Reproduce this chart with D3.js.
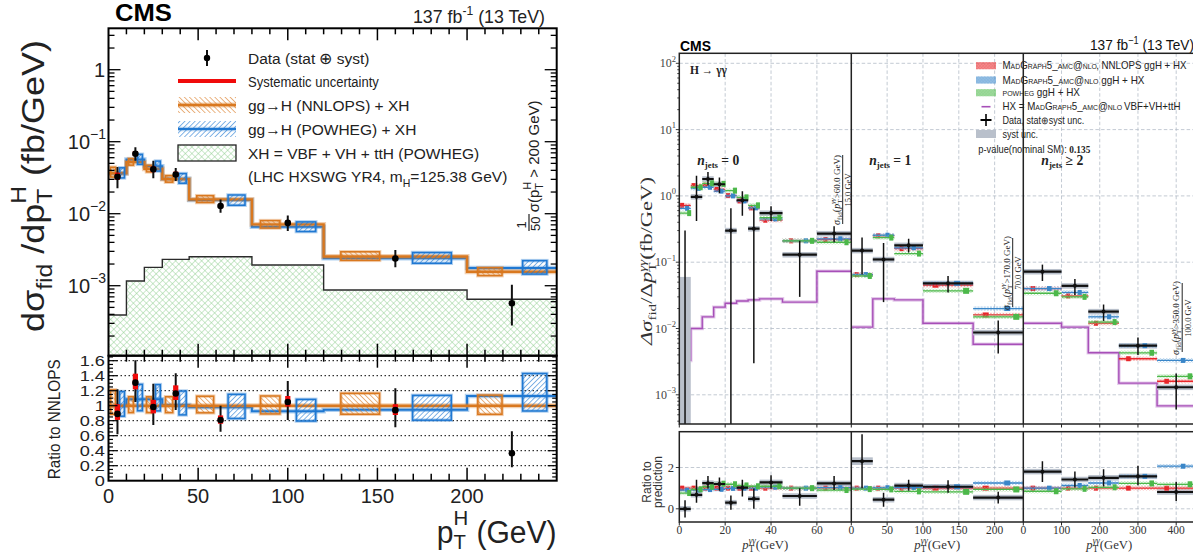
<!DOCTYPE html>
<html>
<head>
<meta charset="utf-8">
<script src="https://cdn.jsdelivr.net/npm/d3@7"></script>
<style>
  body { margin: 0; background: #fff; }
  svg { display: block; }
  text { white-space: pre; }
</style>
</head>
<body>
<svg id="chart" width="1193" height="554"></svg>
<script>
// ---------------- left figure: inclusive pT(H) ----------------
const ptEdges    = [0, 10, 20, 30, 45, 80, 120, 200, 250];
const dataXsec   = [0.0325, 0.068, 0.0413, 0.0351, 0.0128, 0.00745, 0.00239, 0.00057];
const dataErrUp  = [0.0120, 0.0155, 0.0130, 0.0082, 0.0030, 0.0020, 0.00074, 0.00046];
const dataErrDn  = [0.0099, 0.0135, 0.0101, 0.0066, 0.0025, 0.0017, 0.00058, 0.00029];
const dataSystUp = [0.0047, 0.0062, 0.0040, 0.0033, 0.00095, 0.00057, 0.00020, 0.00003];
const dataSystDn = [0.0029, 0.0047, 0.0036, 0.0026, 0.00080, 0.00043, 0.000165, 0.00003];
const nnlopsXsec = [0.0365, 0.052, 0.042, 0.0302, 0.0158, 0.0071, 0.00254, 0.00156];
const nnlopsHi   = [0.0442, 0.0582, 0.0470, 0.0338, 0.0178, 0.00802, 0.00296, 0.00178];
const nnlopsLo   = [0.0323, 0.0472, 0.0381, 0.0274, 0.0143, 0.00632, 0.00225, 0.00138];
const powhegXsec = [0.0365, 0.0564, 0.0456, 0.0305, 0.0155, 0.00657, 0.0024, 0.00176];
const powhegHi   = [0.0434, 0.0668, 0.0538, 0.0361, 0.0182, 0.0077, 0.00289, 0.00223];
const powhegLo   = [0.0314, 0.0485, 0.0391, 0.0265, 0.0131, 0.00565, 0.00205, 0.00145];
const xhXsec     = [3.92e-4, 1.16e-3, 1.8e-3, 2.32e-3, 2.53e-3, 1.94e-3, 8.7e-4, 6.5e-4];
const ptTicks    = [0, 50, 100, 150, 200];
const ratioTicks = [0, 0.2, 0.4, 0.6, 0.8, 1, 1.2, 1.4, 1.6];
const decadeTicksL = [1e-3, 1e-2, 1e-1, 1];

// ---------------- right figure: pT(gg) in jet multiplicity bins ----------------
const jetLabels  = ["0", "1", "2"];
const edgesJ0    = [0, 5, 10, 15, 20, 25, 30, 35, 45, 60, 75];
const nnlopsJ0   = [0.72, 1.43, 1.45, 1.25, 1.01, 0.84, 0.66, 0.43, 0.21, 0.22];
const mgJ0       = [0.65, 1.30, 1.35, 1.18, 1.00, 0.84, 0.66, 0.45, 0.21, 0.225];
const powhegJ0   = [0.55, 1.35, 1.55, 1.52, 1.20, 0.95, 0.72, 0.47, 0.21, 0.20];
const hxJ0       = [0.0033, 0.010, 0.015, 0.021, 0.024, 0.026, 0.027, 0.028, 0.025, 0.073];
const dataJ0     = [0.0, 0.97, 1.8, 1.5, 0.30, 0.86, 0.32, 0.55, 0.13, 0.27];
const errUpJ0    = [0.30, 1.05, 0.50, 0.40, 0.35, 0.32, 0.33, 0.15, 0.08, 0.08];
const errDnJ0    = [0.30, 0.55, 0.37, 0.40, 0.35, 0.36, 0.317, 0.13, 0.10, 0.07];
const systJ0     = [0.06, 0.08, 0.10, 0.10, 0.03, 0.06, 0.03, 0.04, 0.012, 0.02];

const edgesJ1    = [0, 30, 60, 100, 170, 240];
const nnlopsJ1   = [0.065, 0.25, 0.16, 0.045, 0.016];
const mgJ1       = [0.065, 0.255, 0.165, 0.048, 0.020];
const powhegJ1   = [0.062, 0.235, 0.135, 0.037, 0.015];
const hxJ1       = [0.0105, 0.028, 0.027, 0.012, 0.0058];
const dataJ1     = [0.15, 0.11, 0.18, 0.048, 0.0087];
const errUpJ1    = [0.085, 0.085, 0.045, 0.014, 0.0045];
const errDnJ1    = [0.085, 0.085, 0.04, 0.013, 0.0045];
const systJ1     = [0.012, 0.009, 0.014, 0.004, 0.0007];

const edgesJ2    = [0, 100, 170, 250, 350, 450];
const nnlopsJ2   = [0.040, 0.031, 0.012, 0.0035, 0.0016];
const mgJ2       = [0.040, 0.035, 0.015, 0.0055, 0.0033];
const powhegJ2   = [0.034, 0.030, 0.0125, 0.0043, 0.0019];
const hxJ2       = [0.012, 0.0105, 0.0043, 0.0015, 0.00068];
const dataJ2     = [0.072, 0.044, 0.018, 0.0055, 0.0013];
const errUpJ2    = [0.02, 0.012, 0.005, 0.0018, 0.0008];
const errDnJ2    = [0.02, 0.012, 0.005, 0.0015, 0.0007];
const systJ2     = [0.005, 0.003, 0.0012, 0.0004, 0.0001];

const ticksJ0 = [0, 20, 40, 60];
const ticksJ1 = [0, 50, 100, 150, 200];
const ticksJ2 = [0, 100, 200, 300, 400];
const lastBinCut   = ["60.0", "170.0", "350.0"];
const lastBinWidth = ["15.0", "70.0", "100.0"];
const decadeTicksR = [1e-3, 1e-2, 1e-1, 1, 10, 100];

// ---------------- shared helpers ----------------
const SANS  = "'Liberation Sans', Arial, Helvetica, sans-serif";
const SERIF = "'Liberation Serif', 'DejaVu Serif', serif";
const svg = d3.select("#chart");
const defs = svg.append("defs");

function hatchPattern(id, color, angle, gap, width, cross) {
  const p = defs.append("pattern").attr("id", id)
    .attr("patternUnits", "userSpaceOnUse")
    .attr("width", gap).attr("height", gap)
    .attr("patternTransform", `rotate(${angle})`);
  p.append("line").attr("x1", 0).attr("y1", 0).attr("x2", 0).attr("y2", gap)
    .attr("stroke", color).attr("stroke-width", width);
  if (cross) p.append("line").attr("x1", 0).attr("y1", 0).attr("x2", gap).attr("y2", 0)
    .attr("stroke", color).attr("stroke-width", width);
}
const ORANGE = "#d9781f", BLUE = "#1f78d2", XHGREEN = "#8fcf8f";
hatchPattern("hatchOrange", ORANGE, -45, 3.6, 1.1, false);
hatchPattern("hatchBlue", BLUE, 45, 3.6, 1.1, false);
hatchPattern("crossGreen", XHGREEN, 45, 4.6, 0.9, true);
const RED = "#e8262b", MGBLUE = "#3a86c8", PWGREEN = "#4cb84a", PURPLE = "#a74fb8", SYSTGRAY = "#b9c0cb";
hatchPattern("hatchRed", "#f07070", 45, 2.2, 0.9, true);
hatchPattern("hatchMg", "#7fb2e0", 45, 2.2, 0.9, true);
hatchPattern("hatchPw", "#8fd48d", 45, 2.2, 0.9, true);

// Text made of pieces; stacked pieces share the same x (super/subscript pairs).
// width (or sx) stretches the run along its baseline, sy scales the glyph height.
function rich(parent, x, y, pieces, o = {}) {
  const outer = parent.append("g").attr("transform", `translate(${x},${y}) rotate(${o.rotate || 0})`);
  const g = outer.append("g");
  let cx = 0, pend = 0;
  pieces.forEach(p => {
    const el = g.append("text").attr("x", cx + (p.dx || 0)).attr("y", p.dy || 0)
      .attr("xml:space", "preserve")
      .attr("font-size", p.size).attr("font-family", p.family || o.family || SANS)
      .attr("fill", o.fill || "#000").text(p.t);
    const wt = p.weight || o.weight; if (wt) el.attr("font-weight", wt);
    const st = p.style || o.style; if (st) el.attr("font-style", st);
    if (p.variant) el.style("font-variant", p.variant);
    const w = el.node().getComputedTextLength() + (p.dx || 0);
    if (p.stack) pend = Math.max(pend, w);
    else { cx += Math.max(w, pend); pend = 0; }
  });
  cx += pend;
  const sc = o.width ? o.width / cx : (o.sx || 1);
  const W = cx * sc;
  const shift = o.anchor === "end" ? -W : o.anchor === "middle" ? -W / 2 : 0;
  g.attr("transform", `translate(${shift},0) scale(${sc},${o.sy || 1})`);
  return outer;
}

// ======================= LEFT FIGURE =======================
const L = { x0: 108.5, x1: 556.7, top: 28.3, mid: 355.7, bot: 480.7 };
const xL = d3.scaleLinear().domain([0, 250]).range([L.x0, L.x1]);
const yL = d3.scaleLog().domain([Math.pow(10, -3.972), Math.pow(10, 0.575)]).range([L.mid, L.top]);
const yLR = d3.scaleLinear().domain([0, 1.6667]).range([L.bot, L.mid]);

defs.append("clipPath").attr("id", "clipLmain").append("rect")
  .attr("x", L.x0).attr("y", L.top).attr("width", L.x1 - L.x0).attr("height", L.mid - L.top);
defs.append("clipPath").attr("id", "clipLratio").append("rect")
  .attr("x", L.x0).attr("y", L.mid).attr("width", L.x1 - L.x0).attr("height", L.bot - L.mid);

const nB = ptEdges.length - 1;
const bins = d3.range(nB).map(i => ({ lo: ptEdges[i], hi: ptEdges[i + 1], c: (ptEdges[i] + ptEdges[i + 1]) / 2 }));
function stepPts(vals) {
  const pts = vals.map((v, i) => [ptEdges[i], v]);
  pts.push([ptEdges[nB], vals[nB - 1]]);
  return pts;
}

const gLm = svg.append("g").attr("clip-path", "url(#clipLmain)");
// XH contribution: hatched area from the bottom of the pad
gLm.append("path").datum(stepPts(xhXsec))
  .attr("d", d3.area().curve(d3.curveStepAfter).x(d => xL(d[0])).y0(L.mid).y1(d => yL(d[1])))
  .attr("fill", "url(#crossGreen)");
gLm.append("path").datum(stepPts(xhXsec))
  .attr("d", d3.line().curve(d3.curveStepAfter).x(d => xL(d[0])).y(d => yL(d[1])))
  .attr("fill", "none").attr("stroke", "#2b2b2b").attr("stroke-width", 1.4);

function predLines(g, vals, y, color, w) {
  const line = d3.line().curve(d3.curveStepAfter).x(d => xL(d[0])).y(d => y(d[1]));
  g.append("path").datum(stepPts(vals)).attr("d", line).attr("fill", "none")
    .attr("stroke", color).attr("stroke-opacity", 0.35).attr("stroke-width", w + 2.5);
  g.append("path").datum(stepPts(vals)).attr("d", line).attr("fill", "none")
    .attr("stroke", color).attr("stroke-width", w);
}
function predBoxes(g, lo, hi, y, color, pat, f0, f1) {
  bins.forEach((b, i) => {
    const xa = xL(b.lo + f0 * (b.hi - b.lo)), xb = xL(b.lo + f1 * (b.hi - b.lo));
    const ya = y(hi[i]), yb = y(lo[i]);
    g.append("rect").attr("x", xa).attr("y", ya).attr("width", xb - xa).attr("height", yb - ya)
      .attr("fill", "none").attr("stroke", color).attr("stroke-opacity", 0.35).attr("stroke-width", 3.5);
    g.append("rect").attr("x", xa).attr("y", ya).attr("width", xb - xa).attr("height", yb - ya)
      .attr("fill", `url(#${pat})`).attr("stroke", color).attr("stroke-width", 1.5);
  });
}
function dataPoints(g, vals, up, dn, sUp, sDn, y) {
  bins.forEach((b, i) => {
    const x = xL(b.c);
    g.append("line").attr("x1", x).attr("x2", x).attr("y1", y(vals[i] + up[i])).attr("y2", y(Math.max(vals[i] - dn[i], 1e-9)))
      .attr("stroke", "#111").attr("stroke-width", 2);
    g.append("rect").attr("x", x - 2.6).attr("width", 5.2)
      .attr("y", y(vals[i] + sUp[i])).attr("height", Math.max(y(vals[i] - sDn[i]) - y(vals[i] + sUp[i]), 0.5))
      .attr("fill", "#f00a0a");
    g.append("circle").attr("cx", x).attr("cy", y(vals[i])).attr("r", 3.3).attr("fill", "#000");
  });
}

predLines(gLm, powhegXsec, yL, BLUE, 2);
predLines(gLm, nnlopsXsec, yL, ORANGE, 2.4);
predBoxes(gLm, nnlopsLo, nnlopsHi, yL, ORANGE, "hatchOrange", 0.12, 0.39);
predBoxes(gLm, powhegLo, powhegHi, yL, BLUE, "hatchBlue", 0.62, 0.89);
dataPoints(gLm, dataXsec, dataErrUp, dataErrDn, dataSystUp, dataSystDn, yL);

// ratio pad: everything divided by the NNLOPS prediction
const ratioOf = arr => arr.map((v, i) => v / nnlopsXsec[i]);
const gLr = svg.append("g").attr("clip-path", "url(#clipLratio)");
ratioTicks.filter(t => t > 0).forEach(t => {
  gLr.append("line").attr("x1", L.x0).attr("x2", L.x1).attr("y1", yLR(t)).attr("y2", yLR(t))
    .attr("stroke", "#000").attr("stroke-width", 1).attr("stroke-dasharray", "1.5,2.5");
});
predLines(gLr, ratioOf(powhegXsec), yLR, BLUE, 2);
predLines(gLr, ratioOf(nnlopsXsec), yLR, ORANGE, 2.4);
predBoxes(gLr, ratioOf(nnlopsLo), ratioOf(nnlopsHi), yLR, ORANGE, "hatchOrange", 0.12, 0.39);
predBoxes(gLr, ratioOf(powhegLo), ratioOf(powhegHi), yLR, BLUE, "hatchBlue", 0.62, 0.89);
dataPoints(gLr, ratioOf(dataXsec), ratioOf(dataErrUp), ratioOf(dataErrDn), ratioOf(dataSystUp), ratioOf(dataSystDn), yLR);

// frames and ticks
const gLa = svg.append("g").attr("stroke", "#000");
[[L.top, L.mid], [L.mid, L.bot]].forEach(([a, b]) => {
  gLa.append("rect").attr("x", L.x0).attr("y", a).attr("width", L.x1 - L.x0).attr("height", b - a)
    .attr("fill", "none").attr("stroke-width", 2);
});
d3.range(10, 250, 10).forEach(v => {
  const x = xL(v), maj = v % 50 === 0;
  const segs = maj ? [[L.top, L.top + 12], [L.mid - 12, L.mid], [L.mid, L.mid + 12], [L.bot - 13, L.bot]]
                   : [[L.top, L.top + 6], [L.mid - 6, L.mid], [L.mid, L.mid + 6], [L.bot - 7, L.bot]];
  segs.forEach(s => gLa.append("line").attr("x1", x).attr("x2", x).attr("y1", s[0]).attr("y2", s[1]).attr("stroke-width", 1.5));
});
for (let e = -4; e <= 0; e++) {
  for (let m = 1; m <= 9; m++) {
    const v = m * Math.pow(10, e), y = yL(v);
    if (y < L.top || y > L.mid) continue;
    const len = m === 1 ? 12 : 6;
    gLa.append("line").attr("x1", L.x0).attr("x2", L.x0 + len).attr("y1", y).attr("y2", y).attr("stroke-width", 1.3);
    gLa.append("line").attr("x1", L.x1 - len).attr("x2", L.x1).attr("y1", y).attr("y2", y).attr("stroke-width", 1.3);
  }
}
d3.range(0.05, 1.66, 0.05).forEach(v => {
  const y = yLR(v), maj = Math.abs(v / 0.2 - Math.round(v / 0.2)) < 1e-6, len = maj ? 9 : 4.5;
  gLa.append("line").attr("x1", L.x0).attr("x2", L.x0 + len).attr("y1", y).attr("y2", y).attr("stroke-width", 1.2);
  gLa.append("line").attr("x1", L.x1 - len).attr("x2", L.x1).attr("y1", y).attr("y2", y).attr("stroke-width", 1.2);
});

// axis labels
const gLt = svg.append("g");
decadeTicksL.forEach(v => {
  const e = Math.round(Math.log10(v)), y = yL(v);
  if (e === 0) rich(gLt, 105, y + 7.5, [{ t: "1", size: 20 }], { anchor: "end", fill: "#222" });
  else rich(gLt, 106, y + 7.5, [{ t: "10", size: 20 }, { t: "\u2212" + (-e), size: 14, dy: -10 }], { anchor: "end", fill: "#222" });
});
ratioTicks.forEach(v => {
  rich(gLt, 105, yLR(v) + 5, [{ t: v === 1 ? "1" : v === 0 ? "0" : d3.format(".1f")(v), size: 13.8 }],
    { anchor: "end", fill: "#222", sx: 1.32 });
});
ptTicks.forEach(v => {
  gLt.append("text").attr("x", xL(v)).attr("y", 503).attr("text-anchor", "middle")
    .attr("font-family", SANS).attr("font-size", 20).attr("fill", "#222").text(v);
});
rich(gLt, L.x1, 543, [{ t: "p", size: 31 }, { t: "H", size: 21, dy: -18, stack: true }, { t: "T", size: 21, dy: 6 },
  { t: " (GeV)", size: 31 }], { anchor: "end", fill: "#222", width: 120 });
rich(gLt, 44, 186, [{ t: "d\u03c3", size: 32 }, { t: "fid", size: 22, dy: 8 }, { t: " /dp", size: 32 },
  { t: "H", size: 22, dy: -18, stack: true }, { t: "T", size: 22, dy: 8 }, { t: " (fb/GeV)", size: 32 }],
  { anchor: "middle", rotate: -90, fill: "#222", width: 292 });
rich(gLt, 60, (L.mid + L.bot) / 2 + 1, [{ t: "Ratio to NNLOPS", size: 17 }],
  { anchor: "middle", rotate: -90, fill: "#222", width: 120 });
rich(gLt, 115, 21, [{ t: "CMS", size: 24, weight: "bold" }], { width: 57 });
rich(gLt, 545, 22.5, [{ t: "137 fb", size: 19 }, { t: "-1", size: 13, dy: -8 }, { t: " (13 TeV)", size: 19 }],
  { anchor: "end", fill: "#222", width: 132 });
// high-pT bin annotation
rich(gLt, 539, 231, [{ t: "1", size: 13, dy: -13, dx: 2.5, stack: true }, { t: "50", size: 13, dy: 1 },
  { t: " \u03c3(p", size: 15 }, { t: "H", size: 11, dy: -8, stack: true }, { t: "T", size: 11, dy: 4 },
  { t: " > 200 GeV)", size: 15 }], { rotate: -90, fill: "#222" });
gLt.append("line").attr("x1", 529).attr("x2", 529).attr("y1", 214).attr("y2", 231).attr("stroke", "#222").attr("stroke-width", 1.2);

// legend
const legL = svg.append("g");
const legX0 = 178, legX1 = 236, legTx = 248;
const legRows = [58, 81, 105, 129, 153, 176];
legL.append("line").attr("x1", 207).attr("x2", 207).attr("y1", legRows[0] - 8).attr("y2", legRows[0] + 8).attr("stroke", "#111").attr("stroke-width", 2);
legL.append("circle").attr("cx", 207).attr("cy", legRows[0]).attr("r", 3.2);
legL.append("line").attr("x1", legX0).attr("x2", legX1).attr("y1", legRows[1]).attr("y2", legRows[1]).attr("stroke", "#f00a0a").attr("stroke-width", 4);
[[2, ORANGE, "hatchOrange", 2.4], [3, BLUE, "hatchBlue", 2]].forEach(([r, c, pat, w]) => {
  const y = legRows[r];
  legL.append("rect").attr("x", legX0).attr("y", y - 8).attr("width", legX1 - legX0).attr("height", 16).attr("fill", `url(#${pat})`);
  legL.append("line").attr("x1", legX0).attr("x2", legX1).attr("y1", y).attr("y2", y).attr("stroke", c).attr("stroke-opacity", 0.35).attr("stroke-width", w + 2.5);
  legL.append("line").attr("x1", legX0).attr("x2", legX1).attr("y1", y).attr("y2", y).attr("stroke", c).attr("stroke-width", w);
});
legL.append("rect").attr("x", legX0).attr("y", legRows[4] - 8).attr("width", legX1 - legX0).attr("height", 16)
  .attr("fill", "url(#crossGreen)").attr("stroke", "#222").attr("stroke-width", 1.3);
const legFS = 15.5;
rich(legL, legTx, legRows[0] + 5.5, [{ t: "Data (stat \u2295 syst)", size: legFS }], { fill: "#222" });
rich(legL, legTx, legRows[1] + 5.5, [{ t: "Systematic uncertainty", size: legFS }], { fill: "#222", width: 131 });
rich(legL, legTx, legRows[2] + 5.5, [{ t: "gg\u2192H (NNLOPS) + XH", size: legFS }], { fill: "#222" });
rich(legL, legTx, legRows[3] + 5.5, [{ t: "gg\u2192H (POWHEG) + XH", size: legFS }], { fill: "#222" });
rich(legL, legTx, legRows[4] + 5.5, [{ t: "XH = VBF + VH + ttH (POWHEG)", size: legFS }], { fill: "#222" });
rich(legL, legTx, legRows[5] + 5.5, [{ t: "(LHC HXSWG YR4, m", size: legFS }, { t: "H", size: 10.5, dy: 5 },
  { t: "=125.38 GeV)", size: legFS }], { fill: "#222" });

// ======================= RIGHT FIGURE =======================
const R = { x0: 679.3, subW: 172, top: 53.3, mainBot: 424, rTop: 431.7, rBot: 522 };
const yR = d3.scaleLog().domain([Math.pow(10, 2 - (R.mainBot - 63.3) / 66.3), Math.pow(10, 2 + 10 / 66.3)]).range([R.mainBot, R.top]);
const yRR = d3.scaleLinear().domain([-0.6392, 3.7337]).range([R.rBot, R.rTop]);
const yMinR = yR.domain()[0];
const subs = [
  { edges: edgesJ0, nnlops: nnlopsJ0, mg: mgJ0, pw: powhegJ0, hx: hxJ0, data: dataJ0, up: errUpJ0, dn: errDnJ0, syst: systJ0, ticks: ticksJ0 },
  { edges: edgesJ1, nnlops: nnlopsJ1, mg: mgJ1, pw: powhegJ1, hx: hxJ1, data: dataJ1, up: errUpJ1, dn: errDnJ1, syst: systJ1, ticks: ticksJ1 },
  { edges: edgesJ2, nnlops: nnlopsJ2, mg: mgJ2, pw: powhegJ2, hx: hxJ2, data: dataJ2, up: errUpJ2, dn: errDnJ2, syst: systJ2, ticks: ticksJ2 }
];
const xRight = R.x0 + 3 * R.subW;
defs.append("clipPath").attr("id", "clipRmain").append("rect")
  .attr("x", R.x0).attr("y", R.top).attr("width", xRight - R.x0).attr("height", R.mainBot - R.top);
defs.append("clipPath").attr("id", "clipRratio").append("rect")
  .attr("x", R.x0).attr("y", R.rTop).attr("width", xRight - R.x0).attr("height", R.rBot - R.rTop);

const gRgrid = svg.append("g").attr("stroke", "#b4bcc8").attr("stroke-width", 0.8).attr("stroke-dasharray", "3.5,2.2");
decadeTicksR.forEach(v => gRgrid.append("line").attr("x1", R.x0).attr("x2", xRight).attr("y1", yR(v)).attr("y2", yR(v)));
[0, 2].forEach(v => gRgrid.append("line").attr("x1", R.x0).attr("x2", xRight).attr("y1", yRR(v)).attr("y2", yRR(v)));

const gRm = svg.append("g").attr("clip-path", "url(#clipRmain)");
const gRr = svg.append("g").attr("clip-path", "url(#clipRratio)");
const gRt = svg.append("g");
const clampLog = v => Math.max(v, yMinR * 0.5);

function drawSet(g, x, binsK, y, clamp, dv, up, dn, sy, preds) {
  // data: systematic box behind the bin-width bar
  binsK.forEach((b, i) => {
    const xa = x(b.lo), xb = x(b.hi);
    const ys0 = y(clamp(dv[i] + sy[i])), ys1 = y(clamp(dv[i] - sy[i]));
    const h = Math.max(ys1 - ys0, 5.5);
    g.append("rect").attr("x", xa).attr("width", xb - xa).attr("y", Math.min(ys0, (ys0 + ys1) / 2 - h / 2))
      .attr("height", h).attr("fill", SYSTGRAY);
  });
  // predictions: thin band, central line and a marker
  preds.forEach(p => {
    binsK.forEach((b, i) => {
      const xa = x(b.lo), xb = x(b.hi), yc = y(p.v[i]), bw = xb - xa;
      g.append("rect").attr("x", xa).attr("width", bw).attr("y", yc - 2.2).attr("height", 4.4)
        .attr("fill", `url(#${p.pat})`).attr("opacity", 0.8);
      g.append("line").attr("x1", xa).attr("x2", xb).attr("y1", yc).attr("y2", yc).attr("stroke", p.c).attr("stroke-width", 1.3);
      const mw = Math.max(4, Math.min(bw * 0.12, p.mw));
      g.append("rect").attr("x", xa + p.f * bw - mw / 2).attr("y", yc - p.mh / 2).attr("width", mw).attr("height", p.mh).attr("fill", p.c);
    });
  });
  // data bars
  binsK.forEach((b, i) => {
    const xa = x(b.lo), xb = x(b.hi), xc = x((b.lo + b.hi) / 2), yc = y(clamp(dv[i]));
    g.append("line").attr("x1", xa).attr("x2", xb).attr("y1", yc).attr("y2", yc).attr("stroke", "#111").attr("stroke-width", 2.2);
    g.append("line").attr("x1", xc).attr("x2", xc).attr("y1", y(clamp(dv[i] + up[i]))).attr("y2", y(clamp(dv[i] - dn[i])))
      .attr("stroke", "#111").attr("stroke-width", 1.5);
    g.append("circle").attr("cx", xc).attr("cy", yc).attr("r", 2).attr("fill", "#111");
  });
}

subs.forEach((s, k) => {
  const nb = s.edges.length - 1, xmax = s.edges[nb];
  const x = d3.scaleLinear().domain([0, xmax]).range([R.x0 + k * R.subW, R.x0 + (k + 1) * R.subW]);
  s.ticks.forEach(t => {
    if (t > 0) {
      gRgrid.append("line").attr("x1", x(t)).attr("x2", x(t)).attr("y1", R.top).attr("y2", R.mainBot);
      gRgrid.append("line").attr("x1", x(t)).attr("x2", x(t)).attr("y1", R.rTop).attr("y2", R.rBot);
    }
    gRt.append("line").attr("x1", x(t)).attr("x2", x(t)).attr("y1", R.mainBot).attr("y2", R.mainBot + 3.5).attr("stroke", "#222").attr("stroke-width", 1);
    gRt.append("line").attr("x1", x(t)).attr("x2", x(t)).attr("y1", R.rBot).attr("y2", R.rBot + 3.5).attr("stroke", "#222").attr("stroke-width", 1);
    gRt.append("text").attr("x", x(t)).attr("y", 533.5).attr("text-anchor", "middle").attr("font-family", SERIF)
      .attr("font-size", 11.5).attr("fill", "#333").text(t);
  });
  const binsK = d3.range(nb).map(i => ({ lo: s.edges[i], hi: s.edges[i + 1] }));
  const ratio = arr => arr.map((v, i) => v / s.nnlops[i]);

  // HX step line
  const hxPts = s.hx.map((v, i) => [s.edges[i], v]).concat([[xmax, s.hx[nb - 1]]]);
  const hxLine = d3.line().curve(d3.curveStepAfter).x(d => x(d[0])).y(d => yR(d[1]));
  gRm.append("path").datum(hxPts).attr("d", hxLine).attr("fill", "none").attr("stroke", PURPLE).attr("stroke-opacity", 0.3).attr("stroke-width", 3.5);
  gRm.append("path").datum(hxPts).attr("d", hxLine).attr("fill", "none").attr("stroke", PURPLE).attr("stroke-width", 1.4);

  const predsMain = [
    { v: s.nnlops, c: RED, pat: "hatchRed", f: 0.25, mw: 7, mh: 5 },
    { v: s.mg, c: MGBLUE, pat: "hatchMg", f: 0.68, mw: 6.5, mh: 5 },
    { v: s.pw, c: PWGREEN, pat: "hatchPw", f: 0.86, mw: 7, mh: 6 }
  ];
  drawSet(gRm, x, binsK, yR, clampLog, s.data, s.up, s.dn, s.syst, predsMain);
  const predsRatio = predsMain.map(p => Object.assign({}, p, { v: ratio(p.v) }));
  drawSet(gRr, x, binsK, yRR, v => v, ratio(s.data), ratio(s.up), ratio(s.dn), ratio(s.syst), predsRatio);

  const xm = (x(0) + x(xmax)) / 2;
  rich(gRt, xm, 548.5, [{ t: "p", size: 13.5, style: "italic", family: SERIF }, { t: "\u03b3\u03b3", size: 9.5, dy: -5, stack: true, style: "italic", family: SERIF },
    { t: "T", size: 9.5, dy: 3.5, family: SERIF }, { t: "(GeV)", size: 13.5, family: SERIF }], { anchor: "middle", fill: "#333", width: 46 });
});

// frames
const gRf = svg.append("g").attr("stroke", "#222").attr("fill", "none");
[[R.top, R.mainBot], [R.rTop, R.rBot]].forEach(([a, b]) => {
  gRf.append("rect").attr("x", R.x0).attr("y", a).attr("width", xRight - R.x0).attr("height", b - a).attr("stroke-width", 1.5);
  [1, 2].forEach(k => gRf.append("line").attr("x1", R.x0 + k * R.subW).attr("x2", R.x0 + k * R.subW).attr("y1", a).attr("y2", b).attr("stroke-width", 1.5));
});
// log ticks on the left spine
for (let e = -4; e <= 2; e++) {
  for (let m = 1; m <= 9; m++) {
    const v = m * Math.pow(10, e), y = yR(v);
    if (y < R.top || y > R.mainBot) continue;
    gRf.append("line").attr("x1", R.x0 - (m === 1 ? 3.5 : 2)).attr("x2", R.x0).attr("y1", y).attr("y2", y).attr("stroke-width", 0.9);
  }
}
decadeTicksR.forEach(v => {
  const e = Math.round(Math.log10(v));
  rich(gRt, 676, yR(v) + 4, [{ t: "10", size: 12, family: SERIF }, { t: e < 0 ? "\u2212" + (-e) : String(e), size: 8.5, dy: -5.5, family: SERIF }],
    { anchor: "end", fill: "#444" });
});
[0, 2].forEach(v => {
  gRf.append("line").attr("x1", R.x0 - 3.5).attr("x2", R.x0).attr("y1", yRR(v)).attr("y2", yRR(v)).attr("stroke-width", 0.9);
  gRt.append("text").attr("x", 674).attr("y", yRR(v) + 4.5).attr("text-anchor", "end").attr("font-family", SERIF)
    .attr("font-size", 12.5).attr("fill", "#333").text(v);
});

// axis titles and labels
rich(gRt, 652, 261, [{ t: "\u0394\u03c3", size: 16.5, family: SERIF, style: "italic" }, { t: "fid", size: 11, dy: 3.5, family: SERIF },
  { t: "/\u0394", size: 16.5, family: SERIF }, { t: "p", size: 16.5, family: SERIF, style: "italic" },
  { t: "\u03b3\u03b3", size: 11, dy: -6.5, stack: true, family: SERIF, style: "italic" }, { t: "T", size: 11, dy: 3.5, family: SERIF },
  { t: "(fb/GeV)", size: 16.5, family: SERIF }], { anchor: "middle", rotate: -90, fill: "#333", width: 168 });
gRt.append("text").attr("transform", "translate(651,482) rotate(-90)").attr("text-anchor", "middle")
  .attr("font-family", SANS).attr("font-size", 12).attr("fill", "#333").text("Ratio to");
gRt.append("text").attr("transform", "translate(662,482) rotate(-90)").attr("text-anchor", "middle")
  .attr("font-family", SANS).attr("font-size", 12).attr("fill", "#333").text("prediction");
rich(gRt, 680, 50.5, [{ t: "CMS", size: 14, weight: "bold" }], { width: 31 });
rich(gRt, 1194, 50, [{ t: "137 fb", size: 15.5 }, { t: "\u22121", size: 10.5, dy: -6 }, { t: " (13 TeV)", size: 15.5 }], { anchor: "end", fill: "#111", width: 104 });
rich(gRt, 690, 74, [{ t: "H \u2192 \u03b3\u03b3", size: 12, family: SERIF, weight: "bold" }], { fill: "#222", width: 37 });
subs.forEach((s, k) => {
  const x0 = R.x0 + k * R.subW;
  rich(gRt, x0 + 18, 165, [{ t: "n", size: 14, family: SERIF, style: "italic", weight: "bold" },
    { t: "jets", size: 9, dy: 3, family: SERIF, weight: "bold" }, { t: k === 2 ? " \u2265 2" : " = " + jetLabels[k], size: 14, family: SERIF, weight: "bold" }],
    { fill: "#222", width: 42 });
});
// overflow-bin annotations (rotated fractions)
const annoPos = [[839.5, 190], [1009.5, 273], [1179, 318]];
subs.forEach((s, k) => {
  const [ax, ay] = annoPos[k];
  rich(gRt, ax, ay, [{ t: "\u03c3", size: 10, family: SERIF, style: "italic" }, { t: "fid", size: 7, dy: 2, family: SERIF },
    { t: "(", size: 10, family: SERIF }, { t: "p", size: 10, family: SERIF, style: "italic" },
    { t: "\u03b3\u03b3", size: 7, dy: -4.5, stack: true, family: SERIF, style: "italic" }, { t: "T", size: 7, dy: 2, family: SERIF },
    { t: ">" + lastBinCut[k] + " GeV)", size: 9, family: SERIF }], { anchor: "middle", rotate: -90, fill: "#222", width: k === 0 ? 70 : 74 });
  gRt.append("line").attr("x1", ax + 3.2).attr("x2", ax + 3.2).attr("y1", ay - 35).attr("y2", ay + 34).attr("stroke", "#222").attr("stroke-width", 1);
  rich(gRt, ax + 11.5, ay, [{ t: lastBinWidth[k] + " GeV", size: 8.5, family: SERIF }], { anchor: "middle", rotate: -90, fill: "#222" });
});

// legend
const legR = svg.append("g");
const lrx = 976, lrw = 20, lrT = 1002.5, lfs = 10;
const lrRows = [65.7, 80, 92.7, 106.7, 120, 134];
[["hatchRed", RED], ["hatchMg", MGBLUE], ["hatchPw", PWGREEN]].forEach(([pat, c], i) => {
  legR.append("rect").attr("x", lrx).attr("y", lrRows[i] - 3.5).attr("width", lrw).attr("height", 7).attr("fill", c).attr("opacity", 0.55);
  legR.append("rect").attr("x", lrx).attr("y", lrRows[i] - 3.5).attr("width", lrw).attr("height", 7).attr("fill", `url(#${pat})`);
});
legR.append("line").attr("x1", 981.5).attr("x2", 990.5).attr("y1", lrRows[3]).attr("y2", lrRows[3]).attr("stroke", PURPLE).attr("stroke-width", 1.6);
legR.append("line").attr("x1", 980.5).attr("x2", 991.5).attr("y1", lrRows[4]).attr("y2", lrRows[4]).attr("stroke", "#000").attr("stroke-width", 2);
legR.append("line").attr("x1", 986).attr("x2", 986).attr("y1", lrRows[4] - 6).attr("y2", lrRows[4] + 6).attr("stroke", "#000").attr("stroke-width", 1.6);
legR.append("rect").attr("x", lrx).attr("y", lrRows[5] - 4).attr("width", lrw).attr("height", 8).attr("fill", SYSTGRAY);
const MG = { t: "MadGraph5_amc@nlo", size: lfs, variant: "small-caps" };
rich(legR, lrT, lrRows[0] + 3.5, [MG, { t: ", NNLOPS ggH + HX", size: lfs }], { fill: "#222", width: 184 });
rich(legR, lrT, lrRows[1] + 3.5, [MG, { t: " ggH + HX", size: lfs }], { fill: "#222", width: 142 });
rich(legR, lrT, lrRows[2] + 3.5, [{ t: "powheg", size: lfs, variant: "small-caps" }, { t: " ggH + HX", size: lfs }], { fill: "#222", width: 77.5 });
rich(legR, lrT, lrRows[3] + 3.5, [{ t: "HX = ", size: lfs }, MG, { t: " VBF+VH+ttH", size: lfs }], { fill: "#222", width: 178 });
rich(legR, lrT, lrRows[4] + 3.5, [{ t: "Data, stat\u2295syst unc.", size: lfs }], { fill: "#222", width: 81.5 });
rich(legR, lrT, lrRows[5] + 3.5, [{ t: "syst unc.", size: lfs }], { fill: "#222", width: 35.5 });
rich(legR, 978.3, 152.5, [{ t: "p-value(nominal SM): ", size: lfs }, { t: "0.135", size: lfs, family: SERIF, weight: "bold" }], { fill: "#222", width: 112 });
</script>
</body>
</html>
